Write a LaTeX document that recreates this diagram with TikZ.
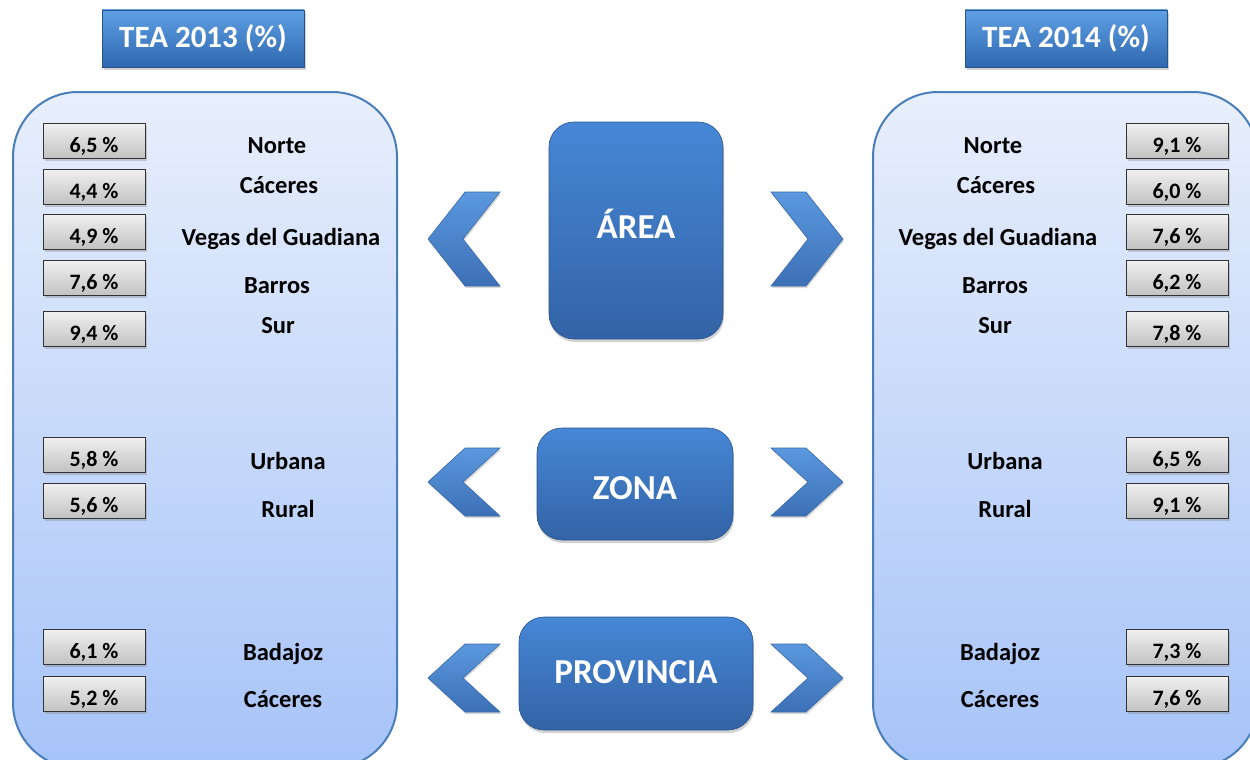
\documentclass[tikz,border=0pt]{standalone}
\usepackage{fontspec}
\setmainfont{Carlito}
\usetikzlibrary{shadows}
\definecolor{panTop}{HTML}{E8EFFC}
\definecolor{panBot}{HTML}{A6C3F8}
\definecolor{panLine}{HTML}{4A7EBB}
\definecolor{hdTop}{HTML}{5E9FE3}
\definecolor{hdBot}{HTML}{2F68B0}
\definecolor{bxTop}{HTML}{4687D6}
\definecolor{bxBot}{HTML}{3363A6}
\definecolor{chTop}{HTML}{5B98DE}
\definecolor{chBot}{HTML}{3C70B6}
\definecolor{chLine}{HTML}{3A6AAA}
\tikzset{
  panel/.style={draw=panLine, line width=2pt, rounded corners=65pt, top color=panTop, bottom color=panBot},
  header/.style={draw=hdBot!80!black, line width=0.6pt, top color=hdTop, bottom color=hdBot, text=white,
    minimum width=202pt, minimum height=57pt, inner sep=0pt,
    font=\fontsize{31}{34}\selectfont\bfseries,
    drop shadow={shadow xshift=2pt, shadow yshift=-3pt, opacity=0.35}},
  catbox/.style={draw=bxBot!85!black, line width=0.6pt, top color=bxTop, bottom color=bxBot,
    rounded corners=25pt, inner sep=0pt,
    drop shadow={shadow xshift=1pt, shadow yshift=-3pt, opacity=0.35}},
  cattext/.style={text=white, inner sep=0pt, text height=22.5pt, text depth=0pt,
    font=\fontsize{35}{38}\selectfont\bfseries},
  valbox/.style={draw=black!80, line width=1pt, top color=black!6, bottom color=black!24,
    minimum width=102pt, minimum height=35pt, inner sep=0pt, anchor=north,
    text height=23pt, text depth=0pt,
    font=\fontsize{22}{24}\selectfont\bfseries,
    drop shadow={shadow xshift=2pt, shadow yshift=-2pt, opacity=0.35}},
  lab/.style={anchor=base, inner sep=0pt, font=\fontsize{24.5}{27}\selectfont\bfseries},
  chev/.style={draw=chLine, line width=0.6pt, top color=chTop, bottom color=chBot,
    drop shadow={shadow xshift=1pt, shadow yshift=-2pt, opacity=0.3}}
}
\newcommand\mychevL[2]{%
  \path[chev] (465,#1) -- (500,#1) -- (463,{(#1+#2)/2}) -- (500,#2) -- (465,#2) -- (428,{(#1+#2)/2}) -- cycle;}
\newcommand\mychevR[2]{%
  \path[chev] (806,#1) -- (771,#1) -- (808,{(#1+#2)/2}) -- (771,#2) -- (806,#2) -- (843,{(#1+#2)/2}) -- cycle;}
\begin{document}
\begin{tikzpicture}[x=1pt,y=-1pt]
\useasboundingbox (0,0) rectangle (1250,760);
\fill[white] (0,0) rectangle (1250,760);
% panels
\path[panel] (13,92) rectangle (397,768);
\path[panel] (873,92) rectangle (1258,768);
% headers
\node[header] (h13) at (203,38.5) {TEA 2013 (\%)};
\node[header] (h14) at (1066,38.5) {TEA 2014 (\%)};
% category boxes
\node[catbox, minimum width=174pt, minimum height=217pt] (area) at (636,230.5) {};
\node[catbox, minimum width=196pt, minimum height=112pt] (zona) at (635,484) {};
\node[catbox, minimum width=234pt, minimum height=113pt] (prov) at (636,673.5) {};
\node[cattext] (areat) at (636,227.5) {ÁREA};
\node[cattext] (zonat) at (635,488) {ZONA};
\node[cattext] (provt) at (636,672.5) {PROVINCIA};
% chevrons
\mychevL{192}{286}
\mychevR{192}{286}
\mychevL{448}{516}
\mychevR{448}{516}
\mychevL{644}{712}
\mychevR{644}{712}
% left values
\node[valbox] (l1) at (94,123) {6,5 \%};
\node[valbox] (l2) at (94,169) {4,4 \%};
\node[valbox] (l3) at (94,214) {4,9 \%};
\node[valbox] (l4) at (94,260) {7,6 \%};
\node[valbox] (l5) at (94,311) {9,4 \%};
\node[valbox] (l6) at (94,437) {5,8 \%};
\node[valbox] (l7) at (94,483) {5,6 \%};
\node[valbox] (l8) at (94,629) {6,1 \%};
\node[valbox] (l9) at (94,676) {5,2 \%};
% right values
\node[valbox] (r1) at (1177,123) {9,1 \%};
\node[valbox] (r2) at (1177,169) {6,0 \%};
\node[valbox] (r3) at (1177,214) {7,6 \%};
\node[valbox] (r4) at (1177,260) {6,2 \%};
\node[valbox] (r5) at (1177,311) {7,8 \%};
\node[valbox] (r6) at (1177,437) {6,5 \%};
\node[valbox] (r7) at (1177,483) {9,1 \%};
\node[valbox] (r8) at (1177,629) {7,3 \%};
\node[valbox] (r9) at (1177,676) {7,6 \%};
% left labels
\node[lab] (ln1) at (277,153) {Norte};
\node[lab] (ln2) at (279,193) {Cáceres};
\node[lab] (ln3) at (281,245) {Vegas del Guadiana};
\node[lab] (ln4) at (277,293) {Barros};
\node[lab] (ln5) at (278,333) {Sur};
\node[lab] (ln6) at (288,469) {Urbana};
\node[lab] (ln7) at (288,517) {Rural};
\node[lab] (ln8) at (283,660) {Badajoz};
\node[lab] (ln9) at (283,707) {Cáceres};
% right labels
\node[lab] (rn1) at (993,153) {Norte};
\node[lab] (rn2) at (996,193) {Cáceres};
\node[lab] (rn3) at (998,245) {Vegas del Guadiana};
\node[lab] (rn4) at (995,293) {Barros};
\node[lab] (rn5) at (995,333) {Sur};
\node[lab] (rn6) at (1005,469) {Urbana};
\node[lab] (rn7) at (1005,517) {Rural};
\node[lab] (rn8) at (1000,660) {Badajoz};
\node[lab] (rn9) at (1000,707) {Cáceres};
\end{tikzpicture}
\end{document}
